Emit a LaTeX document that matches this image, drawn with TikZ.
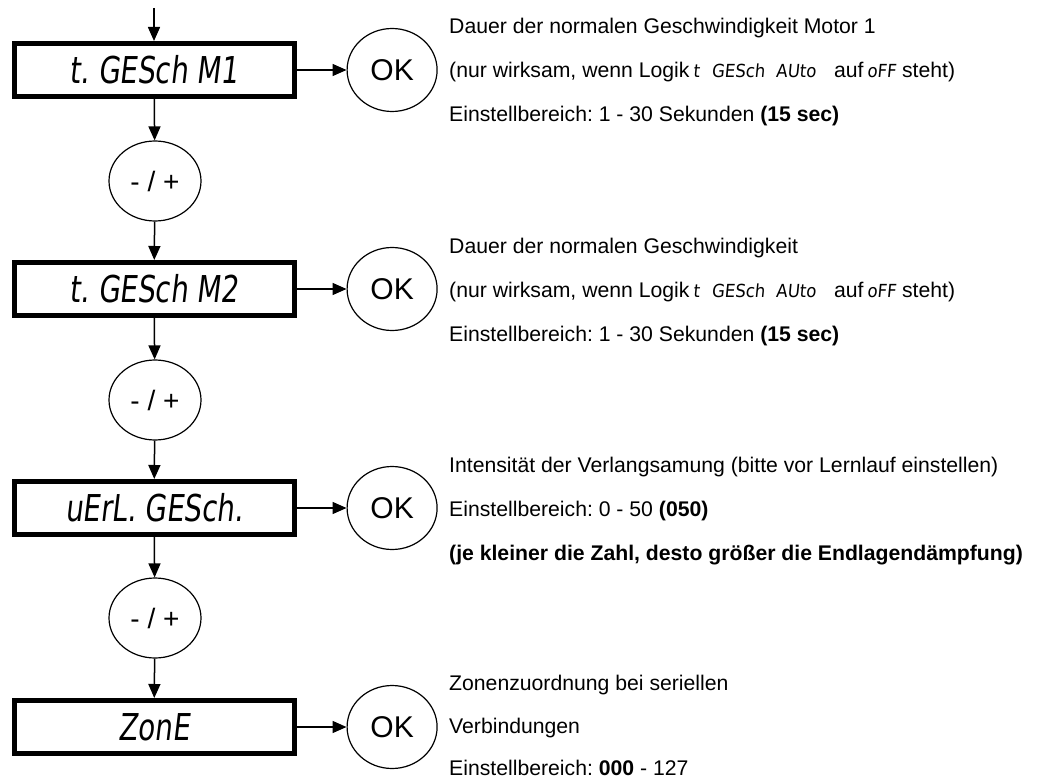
\documentclass[tikz,border=0pt]{standalone}
\usepackage{fontspec}
\setmainfont{Liberation Sans}
\newfontfamily\segfont[FakeSlant=0.12,FakeStretch=0.75]{DejaVu Sans}
\newfontfamily\seginline[FakeSlant=0.1,FakeStretch=0.92]{DejaVu Sans}
\usetikzlibrary{arrows.meta,positioning,shapes.geometric}

\newcommand{\seg}[1]{{\seginline\fontsize{18}{18}\selectfont #1}}
\frenchspacing

\begin{document}
\begin{tikzpicture}[
  x=1pt,y=-1pt,
  display/.style={draw,line width=5pt,minimum width=280pt,minimum height=53pt,inner sep=0pt,
    font=\segfont\fontsize{37}{37}\selectfont},
  okbtn/.style={draw,line width=1.2pt,ellipse,minimum width=90pt,minimum height=83pt,inner sep=0pt,
    font=\fontsize{30}{30}\selectfont},
  pmbtn/.style={draw,line width=1.2pt,ellipse,minimum width=92pt,minimum height=80pt,inner sep=0pt,
    font=\fontsize{28}{28}\selectfont},
  info/.style={anchor=base west,inner sep=0pt,font=\fontsize{21.2}{21.2}\selectfont},
  flow/.style={-{Triangle[length=14pt,width=12pt]},line width=1.5pt},
]
  \useasboundingbox (0,0) rectangle (1044,778);

  % displays
  \node[display] (disp1) at (154,70) {t. GESch M1};
  \node[display] (disp2) at (154,289) {t. GESch M2};
  \node[display] (disp3) at (154,508) {uErL. GESch.};
  \node[display] (disp4) at (154,727) {ZonE};

  % - / + buttons
  \node[pmbtn] (pm1) at (155,181) {- / +};
  \node[pmbtn] (pm2) at (155,400) {- / +};
  \node[pmbtn] (pm3) at (155,618) {- / +};

  % OK buttons
  \node[okbtn,right=50pt of disp1] (ok1) {OK};
  \node[okbtn,right=50pt of disp2] (ok2) {OK};
  \node[okbtn,right=50pt of disp3] (ok3) {OK};
  \node[okbtn,right=50pt of disp4] (ok4) {OK};

  \coordinate (start) at (154,8);
  \draw[flow] (start) -- (disp1);
  \draw[flow] (disp1) -- (pm1);
  \draw[flow] (pm1) -- (disp2);
  \draw[flow] (disp2) -- (pm2);
  \draw[flow] (pm2) -- (disp3);
  \draw[flow] (disp3) -- (pm3);
  \draw[flow] (pm3) -- (disp4);
  \foreach \i in {1,...,4}
    \draw[flow] (disp\i) -- (ok\i);

  % descriptions
  \node[info] (t1a) at (449,34) {Dauer der normalen Geschwindigkeit Motor 1};
  \node[info] (t1b) at (449,78) {(nur wirksam, wenn Logik\,\seg{t\hspace{12pt}GESch\hspace{11pt}AUto}\hspace{18pt}auf\,\seg{oFF} steht)};
  \node[info] (t1c) at (449,122) {Einstellbereich: 1 - 30 Sekunden \textbf{(15 sec)}};

  \node[info] (t2a) at (449,253) {Dauer der normalen Geschwindigkeit};
  \node[info] (t2b) at (449,297) {(nur wirksam, wenn Logik\,\seg{t\hspace{12pt}GESch\hspace{11pt}AUto}\hspace{18pt}auf\,\seg{oFF} steht)};
  \node[info] (t2c) at (449,341) {Einstellbereich: 1 - 30 Sekunden \textbf{(15 sec)}};

  \node[info] (t3a) at (449,472) {Intensität der Verlangsamung (bitte vor Lernlauf einstellen)};
  \node[info] (t3b) at (449,516) {Einstellbereich: 0 - 50 \textbf{(050)}};
  \node[info] (t3c) at (449,560) {\textbf{(je kleiner die Zahl, desto größer die Endlagendämpfung)}};

  \node[info] (t4a) at (449,690) {Zonenzuordnung bei seriellen};
  \node[info] (t4b) at (449,733) {Verbindungen};
  \node[info] (t4c) at (449,775) {Einstellbereich: \textbf{000} - 127};
\end{tikzpicture}
\end{document}
